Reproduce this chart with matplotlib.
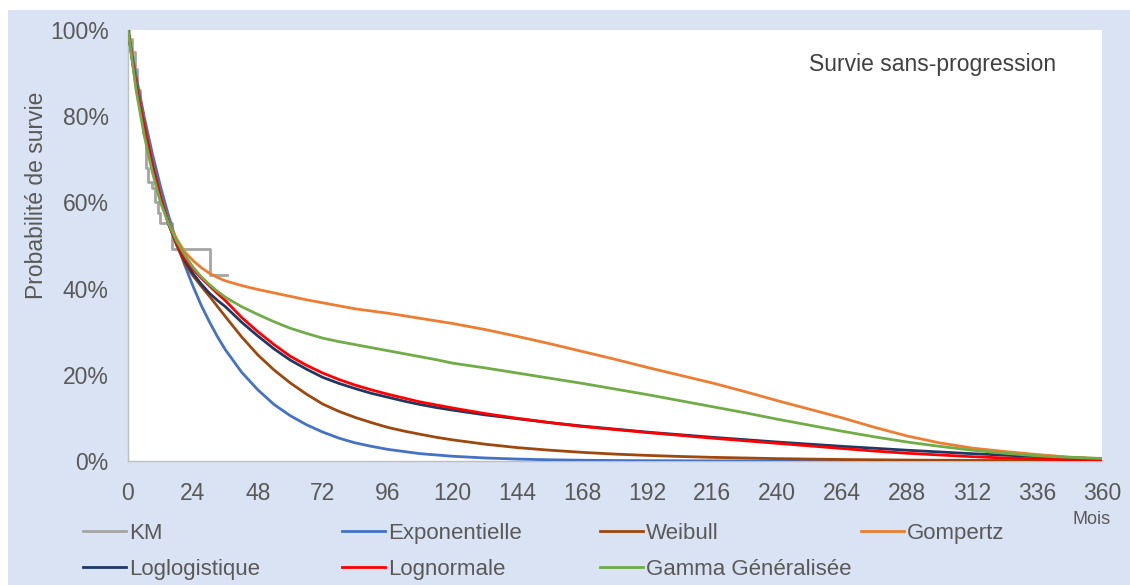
import matplotlib
matplotlib.use("Agg")
import matplotlib.pyplot as plt
from matplotlib.patches import Rectangle

plt.rcParams['font.family'] = ['Liberation Sans', 'DejaVu Sans']

# Survival curves (%), by month
months = [0, 3, 6, 9, 12, 15, 18, 21, 24, 27, 30, 33, 36, 42, 48, 54, 60, 66, 72, 78,
          84, 90, 96, 102, 108, 114, 120, 132, 144, 156, 168, 180, 192, 204, 216,
          228, 240, 252, 264, 276, 288, 300, 312, 324, 336, 348, 360]

exponentielle = [100, 89.3, 79.8, 71.3, 63.7, 56.9, 50.8, 45.4, 40.6, 36.2, 32.4, 28.9,
                 25.8, 20.6, 16.5, 13.1, 10.5, 8.4, 6.7, 5.3, 4.2, 3.4, 2.7, 2.2, 1.7,
                 1.4, 1.1, 0.7, 0.45, 0.28, 0.18, 0.11, 0.07, 0.05, 0.03, 0.02, 0.01,
                 0, 0, 0, 0, 0, 0, 0, 0, 0, 0]
weibull = [100, 88, 78, 69, 61.5, 55, 50, 45.8, 43, 40.6, 38.3, 35.9, 33.5, 28.8, 24.6,
           21.1, 18.1, 15.5, 13.2, 11.5, 10.1, 8.9, 7.8, 6.95, 6.2, 5.5, 4.9, 3.9, 3.1,
           2.5, 2.0, 1.6, 1.3, 1.05, 0.85, 0.7, 0.55, 0.45, 0.35, 0.28, 0.22, 0.18,
           0.14, 0.11, 0.09, 0.07, 0.05]
gompertz = [100, 87.5, 77, 68, 61, 55.5, 51.5, 48.5, 46.5, 44.9, 43.6, 42.6, 41.8,
            40.7, 39.8, 39.0, 38.2, 37.4, 36.7, 36.0, 35.3, 34.8, 34.3, 33.7, 33.1,
            32.5, 31.9, 30.5, 28.9, 27.2, 25.4, 23.6, 21.7, 19.9, 18.1, 16.1, 14.0,
            12.0, 10.0, 7.8, 5.8, 4.2, 3.0, 2.2, 1.5, 0.9, 0.5]
loglogistique = [100, 87, 77, 68.5, 61, 55, 50.5, 46.5, 43.5, 41.1, 39, 37.3, 35.8,
                 32.2, 29.0, 26.0, 23.4, 21.3, 19.4, 18.0, 16.8, 15.7, 14.8, 13.9, 13.1,
                 12.4, 11.8, 10.7, 9.8, 8.9, 8.1, 7.4, 6.7, 6.1, 5.5, 4.95, 4.4, 3.9,
                 3.4, 2.95, 2.5, 2.1, 1.7, 1.35, 1.0, 0.75, 0.5]
lognormale = [100, 87, 77.5, 68.5, 61, 55, 50.5, 47, 44.5, 42.5, 40.7, 38.9, 37.2, 33.3,
              30, 27.0, 24.3, 22.2, 20.4, 18.9, 17.6, 16.5, 15.5, 14.6, 13.7, 13.0, 12.3,
              11.0, 9.9, 8.9, 8.0, 7.3, 6.6, 5.95, 5.3, 4.7, 4.1, 3.5, 2.9, 2.3, 1.8,
              1.4, 1.0, 0.7, 0.5, 0.3, 0.2]
gamma_gen = [100, 86, 75.5, 67, 60, 55, 51, 47.8, 45, 42.8, 41, 39.4, 38, 35.8, 34,
             32.3, 30.8, 29.6, 28.5, 27.7, 27.0, 26.3, 25.6, 24.9, 24.2, 23.5, 22.7,
             21.6, 20.4, 19.2, 18.0, 16.7, 15.4, 14.0, 12.6, 11.2, 9.7, 8.3, 6.9, 5.6,
             4.4, 3.4, 2.5, 1.8, 1.2, 0.85, 0.6]

# Kaplan-Meier steps
km_months = [0, 0.5, 1.5, 2.5, 3.5, 4.5, 5.5, 6.5, 7.5, 9, 10, 11, 11.8, 16.1, 30.3, 36.5]
km_surv = [100, 98, 95, 91, 86, 81, 76, 68, 64.8, 63.3, 60.2, 57.5, 55.3, 49.2, 43.2, 43.2]

x_ticks = list(range(0, 361, 24))
y_ticks = [0, 20, 40, 60, 80, 100]

W, H = 1130, 585
TXT = '#595959'
BG = '#dae3f3'

fig = plt.figure(figsize=(W / 100, H / 100), dpi=100)
fig.patch.set_facecolor('white')
fig.add_artist(Rectangle((8 / W, 0), 1 - 8 / W, (H - 10) / H,
                         transform=fig.transFigure, facecolor=BG,
                         edgecolor='none', zorder=-10))

ax = fig.add_axes([128 / W, (H - 461) / H, 974 / W, 431 / H])
ax.set_facecolor('white')

lw = 2.0
series = [
    ('KM', km_months, km_surv, '#a5a5a5'),
    ('Exponentielle', months, exponentielle, '#4472c4'),
    ('Weibull', months, weibull, '#9e480e'),
    ('Gompertz', months, gompertz, '#ed7d31'),
    ('Loglogistique', months, loglogistique, '#203864'),
    ('Lognormale', months, lognormale, '#ff0000'),
    ('Gamma Généralisée', months, gamma_gen, '#70ad47'),
]
handles = []
for i, (name, xs, ys, col) in enumerate(series):
    if name == 'KM':
        h, = ax.plot(xs, ys, drawstyle='steps-post', color=col, lw=lw, zorder=2 + i)
    else:
        h, = ax.plot(xs, ys, color=col, lw=lw, zorder=2 + i, solid_joinstyle='round')
    handles.append(h)

ax.set_xlim(0, 360)
ax.set_ylim(0, 100)
ax.set_xticks(x_ticks)
ax.set_xticklabels([str(v) for v in x_ticks])
ax.set_yticks(y_ticks)
ax.set_yticklabels([f'{v}%' for v in y_ticks])
ax.tick_params(axis='both', length=0, labelsize=16.5, labelcolor=TXT)
ax.tick_params(axis='x', pad=15)
ax.tick_params(axis='y', pad=14)
for s in ['top', 'right']:
    ax.spines[s].set_visible(False)
for s in ['left', 'bottom']:
    ax.spines[s].set_color('#bfbfbf')
    ax.spines[s].set_linewidth(1.0)

fig.text(37 / W, 1 - 195 / H, 'Probabilité de survie', rotation=90,
         ha='center', va='center', fontsize=16.5, color=TXT)
fig.text(933 / W, 1 - 65 / H, 'Survie sans-progression', ha='center',
         va='center', fontsize=16.5, color='#404040')
fig.text(1092 / W, 1 - 520 / H, 'Mois', ha='center', va='center',
         fontsize=13, color=TXT)

# Legend laid out in four evenly spaced columns
fs = 16
fs_px = fs * 100 / 72
col_x = [83, 342, 600, 861]
for c in range(4):
    idx = [c, c + 4] if c + 4 < len(series) else [c]
    fig.legend([handles[k] for k in idx], [series[k][0] for k in idx],
               loc='upper left', bbox_to_anchor=(col_x[c] / W, 1 - 523 / H),
               frameon=False, borderpad=0, borderaxespad=0,
               handlelength=43 / fs_px, handletextpad=3 / fs_px,
               labelspacing=0.68, fontsize=fs, labelcolor=TXT)

fig.savefig('out.png', dpi=100, facecolor=fig.get_facecolor())
